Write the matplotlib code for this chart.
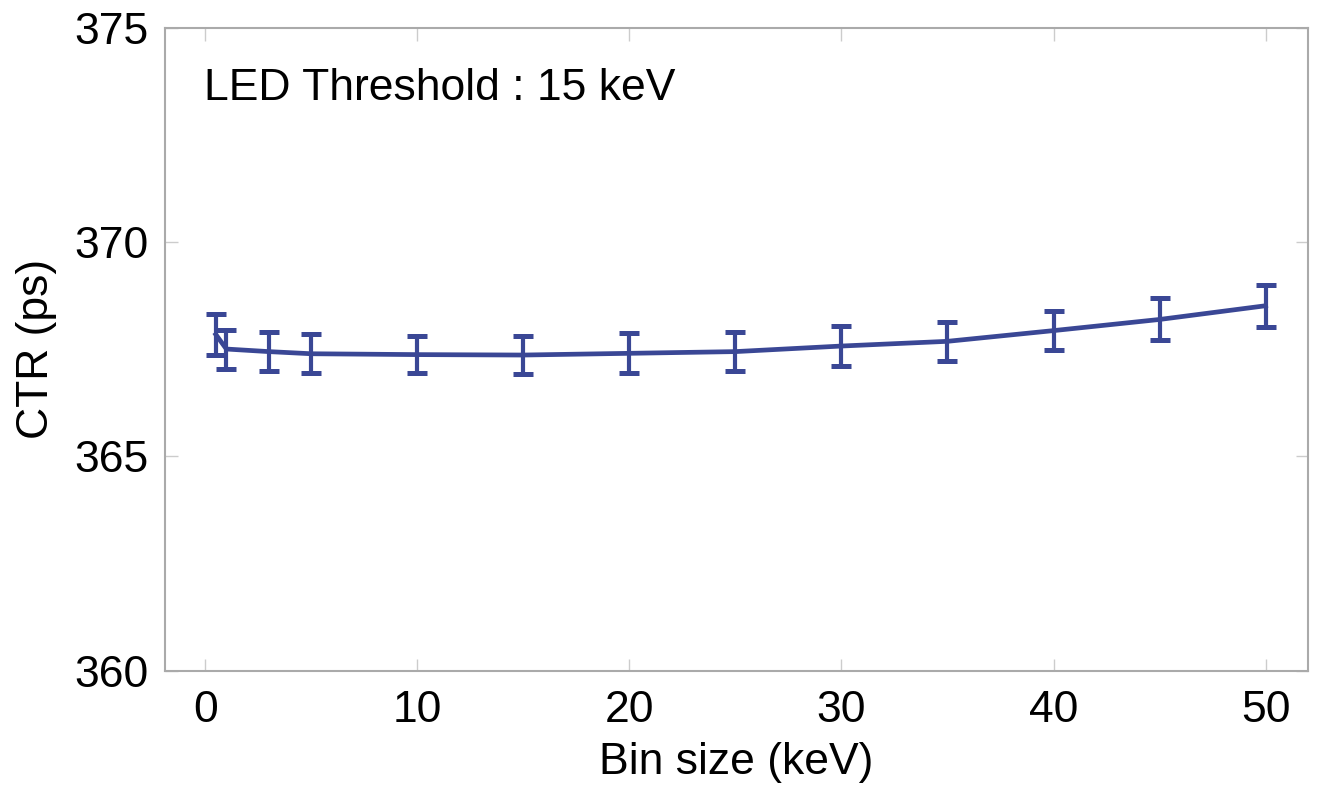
import matplotlib
matplotlib.use("Agg")
import matplotlib.pyplot as plt

plt.rcParams['font.family'] = ['Liberation Sans', 'DejaVu Sans']

bin_size = [0.5, 1, 3, 5, 10, 15, 20, 25, 30, 35, 40, 45, 50]
ctr = [367.84, 367.50, 367.44, 367.39, 367.37, 367.36, 367.40, 367.44, 367.57, 367.68, 367.93, 368.19, 368.51]
ctr_err = [0.48, 0.455, 0.45, 0.455, 0.43, 0.44, 0.47, 0.45, 0.46, 0.46, 0.46, 0.49, 0.49]

x_ticks = [0, 10, 20, 30, 40, 50]
y_ticks = [360, 365, 370, 375]
annotation = "LED Threshold : 15 keV"

color = '#3a4795'

fig = plt.figure(figsize=(13.19, 7.87), dpi=100)
ax = fig.add_axes([0.125, 0.148, 0.8667, 0.817])

ax.plot(bin_size, ctr, color=color, lw=3.4, zorder=3)
ax.errorbar(bin_size, ctr, yerr=ctr_err, fmt='none', ecolor=color,
            elinewidth=3.0, capsize=7, capthick=3.6, zorder=4)

ax.set_xlim(-1.9, 52)
ax.set_ylim(360, 375)
ax.set_xticks(x_ticks)
ax.set_yticks(y_ticks)
ax.tick_params(direction='in', length=9, width=1, color='#cccccc',
               top=True, right=True, labelsize=32, pad=14)
ax.tick_params(axis='y', pad=12)
for s in ax.spines.values():
    s.set_color('#aaaaaa')
    s.set_linewidth(1.5)

ax.set_xlabel('Bin size (keV)', fontsize=32, labelpad=8)
ax.set_ylabel('CTR (ps)', fontsize=32, labelpad=12)

ax.text(0.034, 0.905, annotation, transform=ax.transAxes, fontsize=32,
        ha='left', va='center')

fig.savefig('out.png', dpi=100)
